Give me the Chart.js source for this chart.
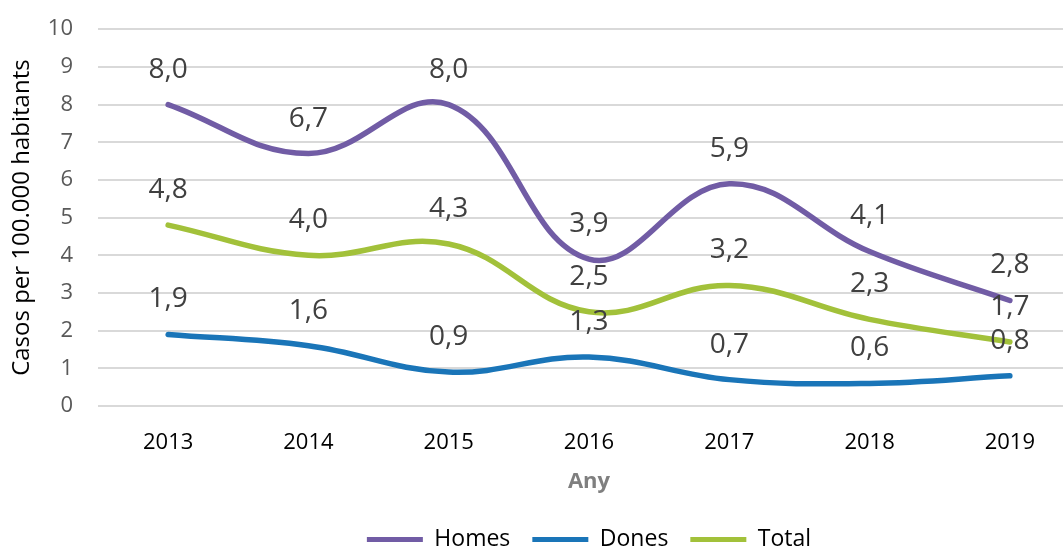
<!DOCTYPE html>
<html>
<head>
<meta charset="utf-8">
<script src="https://cdn.jsdelivr.net/npm/chart.js@4/dist/chart.umd.min.js"></script>
<style>
html,body{margin:0;padding:0;background:#fff;overflow:hidden;width:1063px;height:549px;}
canvas{display:block;margin-top:-9px;}
</style>
</head>
<body>
<canvas id="c" width="1080" height="558" style="width:1080px;height:558px"></canvas>
<script>
const categories = ['2013','2014','2015','2016','2017','2018','2019'];
const homes = [8.0, 6.7, 8.0, 3.9, 5.9, 4.1, 2.8];
const dones = [1.9, 1.6, 0.9, 1.3, 0.7, 0.6, 0.8];
const total = [4.8, 4.0, 4.3, 2.5, 3.2, 2.3, 1.7];
const seriesNames = ['Homes', 'Dones', 'Total'];
const seriesColors = ['#715ca5', '#1a75b8', '#a2c13a'];
const yMin = 0, yMax = 10, yStep = 1;
const yTitle = 'Casos per 100.000 habitants';
const xTitle = 'Any';

const FONT = "'Open Sans', 'Noto Sans', sans-serif";

const labelPlugin = {
  id: 'valueLabels',
  afterDatasetsDraw(chart) {
    const ctx = chart.ctx;
    ctx.save();
    ctx.font = "28px " + FONT;
    ctx.fillStyle = '#404040';
    ctx.textAlign = 'center';
    ctx.textBaseline = 'middle';
    chart.data.datasets.forEach((ds, i) => {
      const meta = chart.getDatasetMeta(i);
      meta.data.forEach((pt, j) => {
        const txt = ds.data[j].toFixed(1).replace('.', ',');
        ctx.fillText(txt, pt.x, pt.y - 35);
      });
    });
    ctx.restore();
  }
};

// centre the legend under the plot area (as in the original)
const legendShift = {
  id: 'legendShift',
  afterLayout(chart) {
    const lg = chart.legend;
    const ca = chart.chartArea;
    const d = (ca.left + ca.right) / 2 - (lg.left + lg.right) / 2;
    lg.left += d; lg.right += d;
  }
};

const seriesData = [homes, dones, total];
new Chart(document.getElementById('c'), {
  type: 'line',
  data: {
    labels: categories,
    datasets: seriesNames.map((n, i) => ({
      label: n,
      data: seriesData[i],
      borderColor: seriesColors[i],
      backgroundColor: seriesColors[i],
      borderWidth: 5.5,
      pointRadius: 0,
      tension: 0.4,
      borderCapStyle: 'round',
      fill: false
    }))
  },
  options: {
    responsive: false,
    animation: false,
    devicePixelRatio: 1,
    layout: { padding: { left: 0, right: 0, top: 13, bottom: -12 } },
    plugins: {
      tooltip: { enabled: false },
      legend: {
        position: 'bottom',
        labels: {
          boxWidth: 56,
          boxHeight: 5,
          useBorderRadius: true,
          borderRadius: 2.5,
          padding: 22,
          color: '#000',
          font: { size: 23, family: FONT },
          generateLabels(chart) {
            return chart.data.datasets.map((ds, i) => ({
              text: ds.label,
              fillStyle: ds.borderColor,
              strokeStyle: ds.borderColor,
              lineWidth: 0,
              fontColor: '#000',
              datasetIndex: i,
              hidden: false
            }));
          }
        }
      }
    },
    scales: {
      x: {
        offset: true,
        afterFit(scale) { scale.height = 100; },
        grid: { display: false, drawTicks: false },
        border: { display: false },
        ticks: { color: '#000', font: { size: 22, family: FONT }, padding: 24 },
        title: { display: true, text: xTitle, color: '#7f7f7f', font: { size: 22, weight: 'bold', family: FONT }, padding: { top: 0, bottom: 11 } }
      },
      y: {
        min: yMin, max: yMax,
        afterFit(scale) { scale.width = 98; },
        grid: { color: '#d9d9d9', lineWidth: 2, drawTicks: false },
        border: { display: false },
        ticks: { stepSize: yStep, color: '#595959', font: { size: 22, family: FONT }, padding: 25 },
        title: { display: true, text: yTitle, color: '#000', font: { size: 24, family: FONT }, padding: { top: 8, bottom: 0 } }
      }
    }
  },
  plugins: [labelPlugin, legendShift]
});
</script>
</body>
</html>
